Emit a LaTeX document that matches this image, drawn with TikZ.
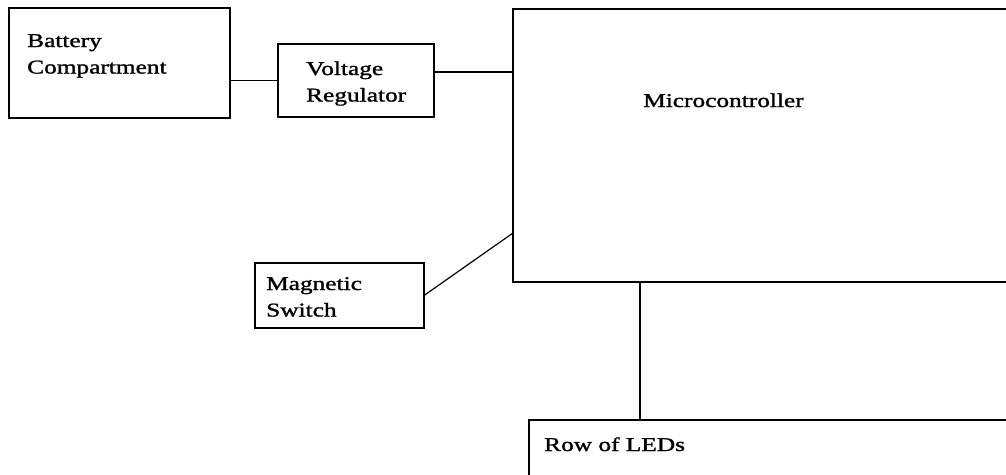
\documentclass[tikz,border=0pt]{standalone}
\usepackage{fontspec}
\setmainfont[FakeBold=1.2]{Liberation Serif}
\usepackage{graphicx}
\usetikzlibrary{calc}
\newcommand{\widetxt}[1]{\scalebox{1.3}[1]{\begin{tabular}[t]{@{}l@{}}#1\end{tabular}}}
\tikzset{
  box/.style={draw=black, line width=1.2pt, rectangle, inner sep=0pt, outer sep=0pt},
  lbl/.style={anchor=base west, inner sep=0pt, font=\fontsize{19.5}{26.5}\selectfont},
  wire/.style={draw=black, line width=1.2pt},
}
\begin{document}
\begin{tikzpicture}[x=1pt,y=-1pt]
\useasboundingbox (0,0) rectangle (1006,474);
\fill[white] (0,0) rectangle (1006,474);
\clip (0,0) rectangle (1006,474);
% boxes
\node[box, minimum width=221pt, minimum height=110pt] (batt) at (119.5,63) {};
\node[box, minimum width=156pt, minimum height=73pt] (vr) at (356,80.5) {};
\node[box, minimum width=502pt, minimum height=273pt] (mc) at (764,145.5) {};
\node[box, minimum width=169pt, minimum height=65pt] (ms) at (339.5,295.5) {};
\node[box, minimum width=486pt, minimum height=60pt] (led) at (772,450) {};
% labels
\node[lbl] (tbatt) at (27,47) {\widetxt{Battery\\Compartment}};
\node[lbl] (tvr) at (306,75) {\widetxt{Voltage\\Regulator}};
\node[lbl] (tmc) at (643,107) {\widetxt{Microcontroller}};
\node[lbl] (tms) at (266,290) {\widetxt{Magnetic\\Switch}};
\node[lbl] (tled) at (544,451) {\widetxt{Row of LEDs}};
% connectors
\draw[wire] (batt.east |- vr.west) -- (vr.west);
\draw[wire] ([yshift=8.5pt]vr.east) -- ([yshift=8.5pt]vr.east -| mc.west);
\draw[wire] (ms.east) -- ([yshift=49pt]mc.south west);
\draw[wire] ([xshift=127pt]mc.south west) -- ([xshift=127pt]mc.south west |- led.north);
\end{tikzpicture}
\end{document}
